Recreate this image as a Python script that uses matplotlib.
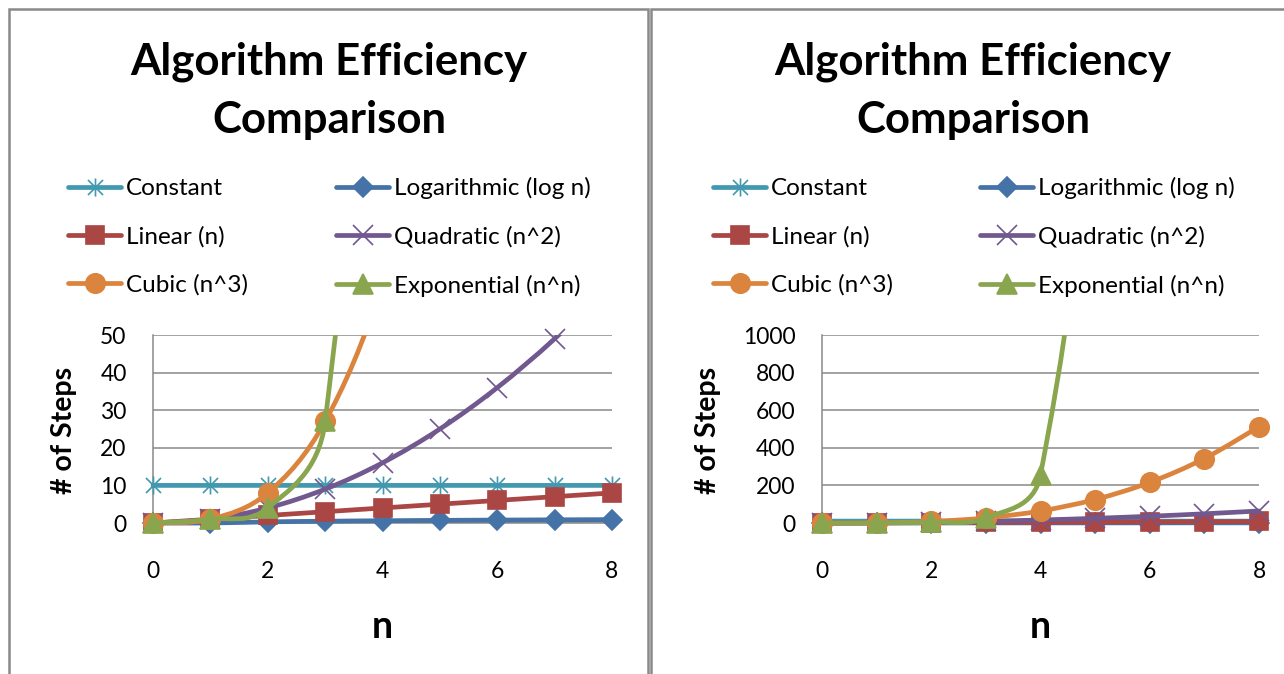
import numpy as np
import matplotlib
matplotlib.use('Agg')
import matplotlib.pyplot as plt
from matplotlib.path import Path
from matplotlib.patches import PathPatch, Rectangle
from matplotlib.lines import Line2D

# data
n = [0, 1, 2, 3, 4, 5, 6, 7, 8]
constant = [10, 10, 10, 10, 10, 10, 10, 10, 10]
logarithmic = [0, 0, 0.301, 0.477, 0.602, 0.699, 0.778, 0.845, 0.903]
linear = [0, 1, 2, 3, 4, 5, 6, 7, 8]
quadratic = [0, 1, 4, 9, 16, 25, 36, 49, 64]
cubic = [0, 1, 8, 27, 64, 125, 216, 343, 512]
exponential = [0, 1, 4, 27, 256, 3125, 46656, 823543, 16777216]

labels = ['Constant', 'Logarithmic (log n)', 'Linear (n)',
          'Quadratic (n^2)', 'Cubic (n^3)', 'Exponential (n^n)']
series = [constant, logarithmic, linear, quadratic, cubic, exponential]

xticks = [0, 2, 4, 6, 8]
yticks_left = [0, 10, 20, 30, 40, 50]
yticks_right = [0, 200, 400, 600, 800, 1000]

# excel-like styles
star = Path([(-1, -1), (1, 1), (-1, 1), (1, -1), (0, -1.2), (0, 1.2)],
            [Path.MOVETO, Path.LINETO, Path.MOVETO, Path.LINETO, Path.MOVETO, Path.LINETO])
colors = ['#4198AF', '#4572A7', '#AA4643', '#71588F', '#DB843D', '#89A54E']
markers = [star, 'D', 's', 'x', 'o', '^']
msizes = [13, 10, 13, 14, 14, 14]
grid_c = '#898989'
lw_line = 3.4

plt.rcParams['font.family'] = ['Lato', 'DejaVu Sans']

W, H = 1284, 674
fig = plt.figure(figsize=(W / 100, H / 100), dpi=100)


def fx(px):
    return px / W


def fy(py):
    return 1 - py / H


def smooth_path(ax, x, y, top):
    # bezier smoothing roughly like excel's "smoothed line"
    pts = ax.transData.transform(np.column_stack([x, y]).astype(float))
    m = len(pts)
    verts, codes = [], []
    pen = False
    for i in range(m - 1):
        if y[i] > top and y[i + 1] > top:
            pen = False
            continue
        p0, p1, p2, p3 = pts[max(i - 1, 0)], pts[i], pts[i + 1], pts[min(i + 2, m - 1)]
        d12 = np.hypot(*(p2 - p1))
        d02 = np.hypot(*(p2 - p0))
        d13 = np.hypot(*(p3 - p1))
        f1 = 1 / 6 if d02 / 6 < d12 / 2 else d12 / (2 * d02)
        f2 = 1 / 6 if d13 / 6 < d12 / 2 else d12 / (2 * d13)
        if not pen:
            verts.append(p1)
            codes.append(Path.MOVETO)
            pen = True
        verts += [p1 + f1 * (p2 - p0), p2 - f2 * (p3 - p1), p2]
        codes += [Path.CURVE4] * 3
    verts = ax.transData.inverted().transform(np.array(verts))
    return Path(verts, codes)


def make_handle(i):
    return Line2D([], [], color=colors[i], lw=lw_line, marker=markers[i], ms=msizes[i],
                  mec=colors[i], mfc=colors[i], mew=1.2, solid_capstyle='round')


def panel(x0, x1, yticks, off):
    top = yticks[-1]
    ax = fig.add_axes([fx(x0), fy(523), fx(x1) - fx(x0), fy(335) - fy(523)])
    ax.set_xlim(0, 8)
    ax.set_ylim(0, top)
    ax.set_xticks(xticks)
    ax.set_yticks(yticks)
    ax.grid(axis='y', color=grid_c, lw=1.1)
    ax.set_axisbelow(True)
    for s in ['top', 'right']:
        ax.spines[s].set_visible(False)
    for s in ['left', 'bottom']:
        ax.spines[s].set_color(grid_c)
        ax.spines[s].set_linewidth(1.1)
    ax.tick_params(length=0, labelsize=16.5)
    ax.tick_params(axis='x', pad=27.5)
    ax.tick_params(axis='y', pad=19)

    clip = Rectangle((-0.05, -0.3), 1.1, 1.3, transform=ax.transAxes)
    for i, y in enumerate(series):
        patch = PathPatch(smooth_path(ax, n, y, top), fill=False, ec=colors[i],
                          lw=lw_line, capstyle='round', joinstyle='round', zorder=3 + i)
        ax.add_patch(patch)
        patch.set_clip_path(clip)
        ym = np.ma.masked_greater(np.array(y, dtype=float), top)
        ax.plot(n, ym, ls='none', marker=markers[i], ms=msizes[i], mec=colors[i],
                mfc=colors[i], mew=1.2, clip_on=False, zorder=3 + i)

    cx = (x0 + x1) / 2
    fig.text(fx(cx), fy(638), 'n', ha='center', va='baseline', fontsize=27, fontweight='bold')
    fig.text(fx(64 + off), fy(430), '# of Steps', ha='center', va='center', rotation=90,
             fontsize=20.5, fontweight='bold')
    fig.text(fx(329 + off), fy(75), 'Algorithm Efficiency', ha='center', va='baseline',
             fontsize=31.5, fontweight='bold')
    fig.text(fx(329 + off), fy(133), 'Comparison', ha='center', va='baseline',
             fontsize=31.5, fontweight='bold')
    return ax


def add_legend(idx, x_px, y_px):
    fig.legend([make_handle(i) for i in idx], [labels[i] for i in idx],
               loc='center left', bbox_to_anchor=(fx(x_px), fy(y_px)), frameon=False,
               borderpad=0, borderaxespad=0, handlelength=2.2, handletextpad=0.2,
               labelspacing=1.1, fontsize=17.5)


# panel frames
fig.add_artist(Rectangle((fx(9), fy(720)), fx(648) - fx(9), fy(9) - fy(720),
                         transform=fig.transFigure, fill=False, ec=grid_c, lw=1.8))
fig.add_artist(Rectangle((fx(651), fy(720)), fx(1320) - fx(651), fy(9) - fy(720),
                         transform=fig.transFigure, fill=False, ec=grid_c, lw=1.8))

panel(153, 612, yticks_left, 0)
panel(822, 1259, yticks_right, 644)

add_legend([0, 2, 4], 68, 237)
add_legend([1, 3, 5], 336, 237)
add_legend([0, 2, 4], 713, 237)
add_legend([1, 3, 5], 980, 237)

fig.savefig('out.png', dpi=100)
